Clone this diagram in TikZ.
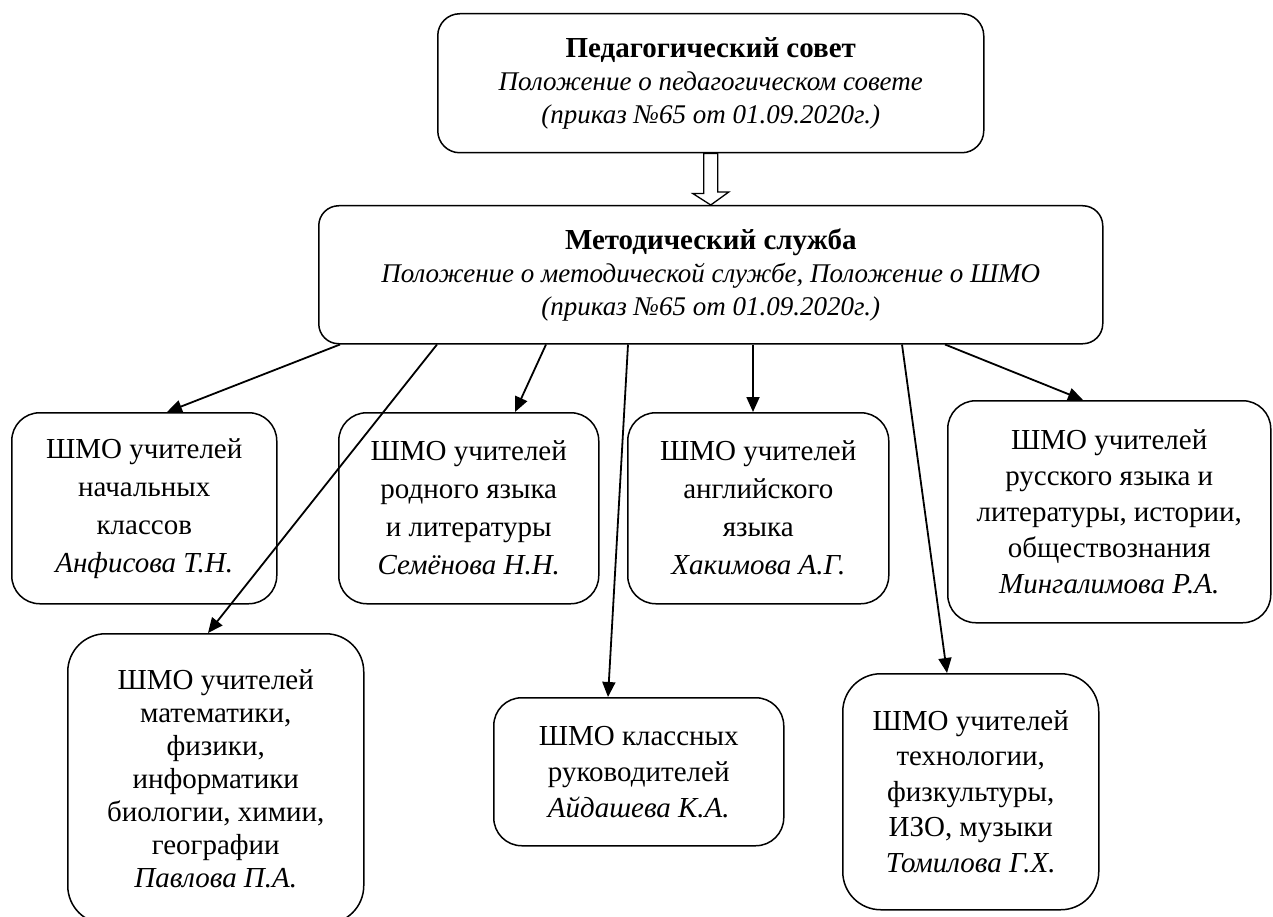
\documentclass[tikz,border=0pt]{standalone}
\usepackage{fontspec}
\setmainfont{Liberation Serif}
\usetikzlibrary{arrows.meta,calc}
\begin{document}
\begin{tikzpicture}[x=1pt,y=-1pt,
  box/.style={draw, line width=1.5pt, rounded corners=28pt, anchor=north west,
    align=center, inner sep=0pt, fill=white},
  conn/.style={line width=1.8pt, -{Triangle[length=15pt,width=13pt]}},
  hollow/.style={line width=1.3pt, fill=white},
  ttl/.style={font=\fontsize{29}{33}\selectfont\bfseries}]
\useasboundingbox[fill=white] (0,0) rectangle (1273,917);

\node[box, rounded corners=22pt, minimum width=546pt, minimum height=139pt,
  font=\fontsize{27}{33}\selectfont] (top) at (437,13)
  {{\fontsize{29}{33}\selectfont\bfseries Педагогический совет}\\\textit{Положение о педагогическом совете}\\\textit{(приказ №65 от 01.09.2020г.)}};
\node[box, rounded corners=20pt, minimum width=784pt, minimum height=138pt,
  font=\fontsize{27}{33}\selectfont] (mid) at (318,205)
  {{\fontsize{29}{33}\selectfont\bfseries Методический служба}\\\textit{Положение о методической службе, Положение о ШМО}\\\textit{(приказ №65 от 01.09.2020г.)}};

\node[box, minimum width=265pt, minimum height=191pt, font=\fontsize{29}{38}\selectfont] (A) at (11,412)
  {ШМО учителей\\начальных\\классов\\\textit{Анфисова Т.Н.}};
\node[box, minimum width=260pt, minimum height=191pt, font=\fontsize{29}{38}\selectfont] (B) at (338,412)
  {ШМО учителей\\родного языка\\и литературы\\\textit{Семёнова Н.Н.}};
\node[box, minimum width=261pt, minimum height=191pt, font=\fontsize{29}{38}\selectfont] (C) at (627,412)
  {ШМО учителей\\английского\\языка\\\textit{Хакимова А.Г.}};
\node[box, minimum width=323pt, minimum height=222pt, font=\fontsize{29}{36}\selectfont] (D) at (947,400)
  {ШМО учителей\\русского языка и\\литературы, истории,\\обществознания\\\textit{Мингалимова Р.А.}};
\node[box, rounded corners=38pt, minimum width=296pt, minimum height=290pt, font=\fontsize{29}{33}\selectfont] (E) at (67,633)
  {ШМО учителей\\математики,\\физики,\\информатики\\биологии, химии,\\географии\\\textit{Павлова П.А.}};
\node[box, minimum width=290pt, minimum height=148pt, font=\fontsize{29}{36}\selectfont] (F) at (493,697)
  {ШМО классных\\руководителей\\\textit{Айдашева К.А.}};
\node[box, rounded corners=38pt, minimum width=256pt, minimum height=236pt, font=\fontsize{29}{35.5}\selectfont] (G) at (842,673)
  {ШМО учителей\\технологии,\\физкультуры,\\ИЗО, музыки\\\textit{Томилова Г.Х.}};

% hollow block arrow between top and mid
\draw[hollow] ($(top.south)+(-7,0)$) -- ++(0,40) -- ++(-11,0) -- (mid.north) -- ++(18,-13)
  -- ++(-11,0) -- ($(top.south)+(7,0)$) -- cycle;

% connectors
\draw[conn] ($(mid.south west)+(22,0)$) -- ($(A.north west)+(156,0)$);
\draw[conn] ($(mid.south west)+(119,0)$) -- ($(E.north west)+(141,0)$);
\draw[conn] ($(mid.south west)+(228,0)$) -- ($(B.north west)+(177,0)$);
\draw[conn] ($(mid.south west)+(310,0)$) -- ($(F.north west)+(115,0)$);
\draw[conn] ($(mid.south west)+(435,0)$) -- ($(C.north west)+(126,0)$);
\draw[conn] ($(mid.south west)+(584,0)$) -- ($(G.north west)+(105,0)$);
\draw[conn] ($(mid.south west)+(627,0)$) -- ($(D.north west)+(136,0)$);
\end{tikzpicture}
\end{document}
